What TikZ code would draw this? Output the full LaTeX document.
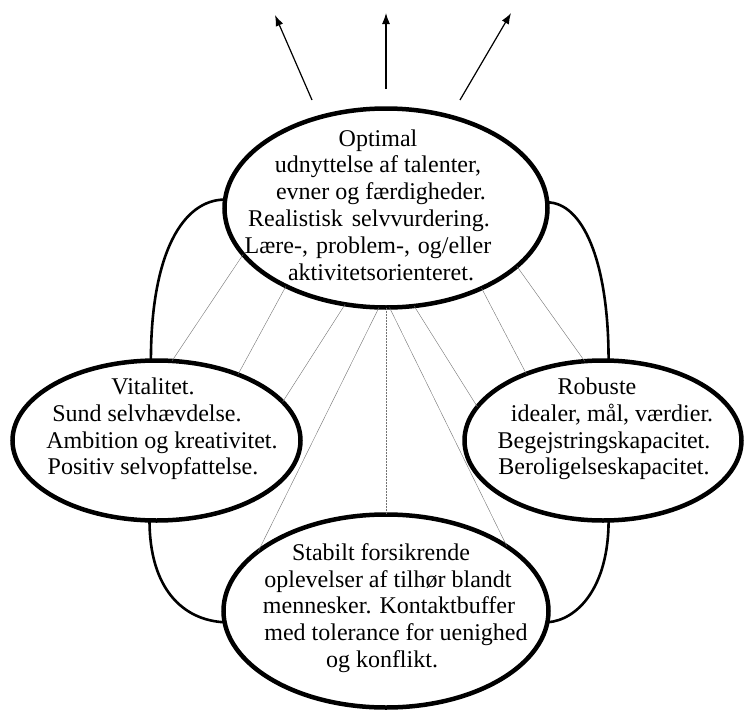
\documentclass[tikz,border=0pt]{standalone}
\usepackage{fontspec}
\setmainfont{Liberation Serif}
\usetikzlibrary{shapes.geometric,arrows.meta}
\tikzset{
  ell/.style={draw, ellipse, line width=4.5pt, inner sep=0pt, outer sep=0pt},
  txt/.style={align=center, inner sep=0pt, font=\fontsize{24}{26.8}\selectfont},
  link/.style={line width=2.6pt},
  fine/.style={draw=black!55, line width=0.4pt},
  finedot/.style={draw=black!55, line width=0.5pt, densely dotted},
  up/.style={line width=1.2pt, -{Latex[length=11pt,width=8pt]}}
}
\begin{document}
\begin{tikzpicture}[x=1pt,y=-1pt]
\useasboundingbox (0,0) rectangle (745,712);
% ellipses
\node[ell, minimum width=323pt, minimum height=199pt] (T) at (386,208) {};
\node[ell, minimum width=288pt, minimum height=160pt] (L) at (156.5,440.5) {};
\node[ell, minimum width=277pt, minimum height=160pt] (R) at (603,440.5) {};
\node[ell, minimum width=325pt, minimum height=193pt] (B) at (386,611) {};
% texts
\node[txt] (Tt) at (378,205) {Optimal\\
udnyttelse af talenter,\\
\hspace*{6pt}evner og færdigheder.\\
\hspace*{-18pt}Realistisk\hspace{3pt} selvvurdering.\\
\hspace*{-20pt}Lære-,\hspace{2pt} problem-,\hspace{2pt} og/eller\\
\hspace*{6pt}aktivitetsorienteret.};
\node[txt] (Lt) at (153,429) {Vitalitet.\\
\hspace*{-12pt}Sund selvhævdelse.\\
\hspace*{18pt}Ambition og kreativitet.\\
Positiv selvopfattelse.};
\node[txt] (Rt) at (604,429) {\hspace*{-14pt}Robuste\\
\hspace*{16pt}idealer, mål, værdier.\\
Begejstringskapacitet.\\
Beroligelseskapacitet.};
\node[txt] (Bt) at (388,608) {\hspace*{-14pt}Stabilt forsikrende\\
oplevelser af tilhør blandt\\
\hspace*{2pt}mennesker. Kontaktbuffer\\
\hspace*{16pt}med tolerance for uenighed\\
\hspace*{-12pt}og konflikt.};
% thick connecting curves
\draw[link] (L.94.5) .. controls +(0,-108) and +(-42,0) .. (T.177);
\draw[link] (R.86.5) .. controls +(0,-103) and +(34,0) .. (T.2);
\draw[link] (L.265.4) .. controls +(0,68) and +(-42,-2) .. (B.184);
\draw[link] (R.274.8) .. controls +(0,67) and +(30,-2) .. (B.356);
% fine lines
\draw[fine] (T.198) -- (L.79);
\draw[fine] (T.218) -- (L.39.5);
\draw[fine] (T.247.7) -- (L.17);
\draw[fine] (T.266.6) -- (B.155.6);
\draw[finedot] (T.270) -- (B.90);
\draw[fine] (T.272.2) -- (B.28.8);
\draw[fine] (T.286.2) -- (R.165.3);
\draw[fine] (T.320.9) -- (R.139.7);
\draw[fine] (T.336.4) -- (R.103.8);
% arrows
\coordinate (a1s) at (312,100);
\coordinate (a1e) at (275,15);
\coordinate (a2s) at (386,89);
\coordinate (a2e) at (386,13);
\coordinate (a3s) at (460,100);
\coordinate (a3e) at (511,13);
\draw[up] (a1s) -- (a1e);
\draw[up] (a2s) -- (a2e);
\draw[up] (a3s) -- (a3e);
\end{tikzpicture}
\end{document}
